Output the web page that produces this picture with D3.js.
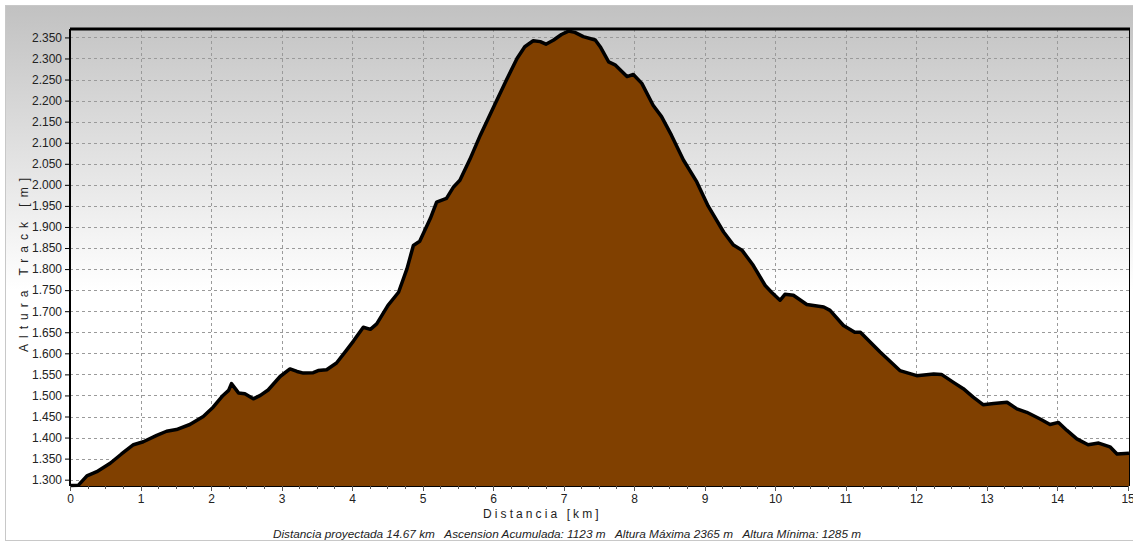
<!DOCTYPE html>
<html>
<head>
<meta charset="utf-8">
<script src="https://cdn.jsdelivr.net/npm/d3@7"></script>
<style>
body{margin:0;background:#fff;}
svg{display:block;font-family:"Liberation Sans",Arial,sans-serif;}
</style>
</head>
<body>
<script>
// profile: distance (km) / altitude (m)
var distKm = [0.00,0.12,0.24,0.38,0.57,0.73,0.90,1.04,1.23,1.37,1.51,1.70,1.89,2.03,2.17,2.25,2.29,2.39,2.48,2.60,
  2.70,2.81,2.98,3.12,3.22,3.31,3.45,3.52,3.64,3.78,3.92,4.02,4.16,4.26,4.35,4.51,4.66,4.78,4.87,4.96,
  5.11,5.20,5.34,5.44,5.53,5.67,5.82,6.00,6.19,6.34,6.45,6.57,6.67,6.75,6.86,6.97,7.07,7.16,7.28,7.45,
  7.52,7.64,7.73,7.90,7.99,8.11,8.27,8.39,8.53,8.70,8.89,9.05,9.27,9.41,9.53,9.69,9.86,9.95,10.07,10.14,
  10.26,10.45,10.69,10.78,10.97,11.13,11.21,11.49,11.77,12.01,12.25,12.36,12.53,12.67,12.81,12.95,13.10,13.29,13.43,13.57,
  13.76,13.90,14.02,14.14,14.28,14.44,14.59,14.75,14.85,15.02];
var altM = [1286,1287,1309,1319,1339,1361,1383,1390,1405,1415,1419,1431,1450,1472,1500,1512,1528,1506,1504,1492,
  1500,1513,1545,1563,1557,1553,1554,1559,1561,1577,1607,1629,1662,1657,1670,1714,1745,1801,1856,1866,
  1920,1959,1968,1995,2011,2060,2118,2182,2249,2300,2328,2342,2340,2334,2344,2357,2365,2362,2352,2344,
  2328,2292,2285,2257,2262,2241,2189,2162,2118,2059,2007,1950,1888,1857,1845,1809,1761,1745,1726,1740,
  1738,1716,1710,1702,1666,1650,1650,1603,1559,1547,1551,1550,1531,1516,1496,1478,1481,1484,1468,1460,
  1444,1431,1436,1417,1397,1383,1387,1378,1361,1363];
var yTicks = [1300,1350,1400,1450,1500,1550,1600,1650,1700,1750,1800,1850,1900,1950,2000,2050,2100,2150,2200,2250,2300,2350];
var xTicks = [0,1,2,3,4,5,6,7,8,9,10,11,12,13,14,15];
var yTitle = "Altura Track [m]";
var xTitle = "Distancia [km]";
var footer = "Distancia proyectada 14.67 km   Ascension Acumulada: 1123 m   Altura Máxima 2365 m   Altura Mínima: 1285 m";

var W = 1133, H = 543;
var pL = 70, pR = 1129, pT = 29, pB = 486;

var svg = d3.select("body").append("svg").attr("width", W).attr("height", H);

var defs = svg.append("defs");
var grad = defs.append("linearGradient").attr("id","bg")
  .attr("gradientUnits","userSpaceOnUse").attr("x1",0).attr("y1",5).attr("x2",0).attr("y2",290);
grad.append("stop").attr("offset","0%").attr("stop-color","#c1c1c1");
grad.append("stop").attr("offset","100%").attr("stop-color","#ffffff");

// panel
svg.append("rect").attr("x",5.5).attr("y",5.5).attr("width",W).attr("height",535)
  .attr("fill","url(#bg)").attr("stroke","#c8c8c8");

var x = d3.scaleLinear().domain([0, 15.02]).range([pL, pR]);
var y = d3.scaleLinear().domain([1285, 2370]).range([pB, pT]);

// grid
svg.append("g").selectAll("line").data(yTicks).enter().append("line")
  .attr("x1",pL).attr("x2",pR)
  .attr("y1",function(d){return Math.round(y(d))+0.5;}).attr("y2",function(d){return Math.round(y(d))+0.5;})
  .attr("stroke","#9a9a9a").attr("stroke-dasharray","3,3");
svg.append("g").selectAll("line").data(xTicks.slice(1,15)).enter().append("line")
  .attr("y1",pT).attr("y2",pB)
  .attr("x1",function(d){return Math.round(x(d))+0.5;}).attr("x2",function(d){return Math.round(x(d))+0.5;})
  .attr("stroke","#9a9a9a").attr("stroke-dasharray","3,3");

// profile
var pts = distKm.map(function(d,i){return [d, altM[i]];});
var area = d3.area().x(function(d){return x(d[0]);}).y0(pB).y1(function(d){return y(d[1]);});
var line = d3.line().x(function(d){return x(d[0]);}).y(function(d){return y(d[1]);});
svg.append("path").datum(pts).attr("d",area).attr("fill","#804000");
svg.append("path").datum(pts).attr("d",line).attr("fill","none")
  .attr("stroke","#000").attr("stroke-width",3.5).attr("stroke-linejoin","round");

// frame
svg.append("line").attr("x1",pL).attr("x2",pR+1).attr("y1",pT).attr("y2",pT)
  .attr("stroke","#000").attr("stroke-width",3);
svg.append("line").attr("x1",pR+0.5).attr("x2",pR+0.5).attr("y1",pT).attr("y2",pB)
  .attr("stroke","#000").attr("stroke-width",1);
svg.append("line").attr("x1",pL).attr("x2",pL).attr("y1",pT).attr("y2",pB)
  .attr("stroke","#000").attr("stroke-width",2);
svg.append("line").attr("x1",pL).attr("x2",pR).attr("y1",pB+0.5).attr("y2",pB+0.5)
  .attr("stroke","#000").attr("stroke-width",1);

// axes
var yAxis = d3.axisLeft(y).tickValues(yTicks).tickSize(4).tickPadding(3)
  .tickFormat(function(d){return d3.format(".3f")(d/1000);});
var gy = svg.append("g").attr("transform","translate("+(pL-1)+",0)").call(yAxis);
gy.select(".domain").remove();
gy.selectAll("text").attr("font-size",12).attr("fill","#222").attr("font-family","Liberation Sans, Arial, sans-serif");

var minor = d3.range(0, 15.01, 0.25);
svg.append("g").selectAll("line").data(minor).enter().append("line")
  .attr("x1",function(d){return Math.round(x(d))+0.5;}).attr("x2",function(d){return Math.round(x(d))+0.5;})
  .attr("y1",pB).attr("y2",function(d){return pB + (d%1===0 ? 5 : 3);})
  .attr("stroke","#555");
var xAxis = d3.axisBottom(x).tickValues(xTicks).tickSize(0).tickPadding(8).tickFormat(d3.format("d"));
var gx = svg.append("g").attr("transform","translate(0,"+pB+")").call(xAxis);
gx.select(".domain").remove();
gx.selectAll("text").attr("font-size",12).attr("fill","#222").attr("font-family","Liberation Sans, Arial, sans-serif");

// titles
svg.append("text").attr("transform","translate(28,262) rotate(-90)").attr("text-anchor","middle")
  .attr("font-size",12).attr("fill","#222").attr("letter-spacing","6px").text(yTitle);
svg.append("text").attr("x",483).attr("y",518).attr("font-size",12).attr("fill","#222")
  .attr("letter-spacing","3.1px").text(xTitle);
svg.append("text").attr("x",567).attr("y",538).attr("text-anchor","middle").attr("font-size",11.8)
  .attr("font-style","italic").attr("fill","#222").style("white-space","pre").text(footer);
</script>
</body>
</html>
